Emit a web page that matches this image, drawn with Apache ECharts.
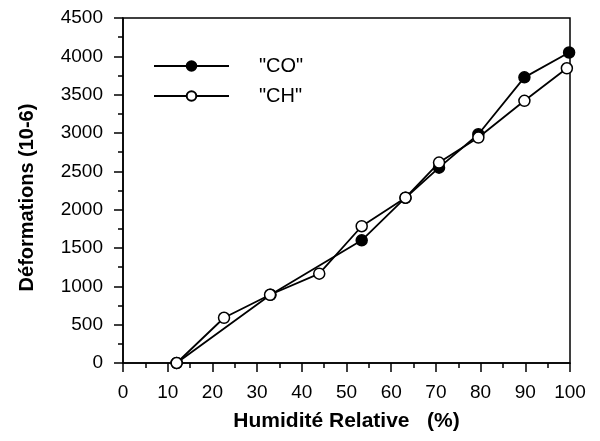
<!DOCTYPE html>
<html>
<head>
<meta charset="utf-8">
<script src="https://cdn.jsdelivr.net/npm/echarts@6/dist/echarts.min.js"></script>
<style>
  html, body { margin: 0; padding: 0; background: #fff; }
  #chart { width: 600px; height: 441px; }
</style>
</head>
<body>
<div id="chart"></div>
<script>
var coX = [12, 33, 53.4, 63.2, 70.7, 79.5, 89.8, 99.8];
var coY = [0, 890, 1600, 2156, 2548, 2984, 3726, 4050];
var chX = [12, 22.6, 32.9, 43.9, 53.4, 63.2, 70.7, 79.5, 89.8, 99.3];
var chY = [0, 590, 890, 1165, 1784, 2156, 2614, 2941, 3420, 3844];

function pairs(xs, ys) {
    var out = [];
    for (var i = 0; i < xs.length; i++) out.push([xs[i], ys[i]]);
    return out;
}

var font = "'Liberation Sans', Arial, sans-serif";
var myChart = echarts.init(document.getElementById('chart'));
var option = {
    animation: false,
    backgroundColor: '#fff',
    grid: {
        left: 123, right: 30, top: 18, bottom: 78,
        show: true, borderColor: '#000', borderWidth: 1.5
    },
    legend: {
        orient: 'vertical',
        left: 148, top: 51,
        itemWidth: 75, itemHeight: 12, itemGap: 10,
        data: ['"CO"', '"CH"'],
        textStyle: { fontFamily: font, fontSize: 20, color: '#000', padding: [0, 0, 0, 25] }
    },
    xAxis: {
        type: 'value', min: 0, max: 100, interval: 10,
        name: 'Humidité Relative   (%)', nameLocation: 'middle', nameGap: 48,
        nameTextStyle: { fontFamily: font, fontSize: 21, fontWeight: 'bold', color: '#000' },
        axisLine: { lineStyle: { color: '#000', width: 1.5 } },
        axisTick: { length: 9, lineStyle: { color: '#000', width: 1.5 } },
        minorTick: { show: true, splitNumber: 2, length: 5, lineStyle: { color: '#000', width: 1.5 } },
        axisLabel: { fontFamily: font, fontSize: 19, color: '#000', margin: 20 },
        splitLine: { show: false }
    },
    yAxis: {
        type: 'value', min: 0, max: 4500, interval: 500,
        name: 'Déformations (10-6)', nameLocation: 'middle', nameGap: 86,
        nameTextStyle: {
            fontFamily: font, fontSize: 20, fontWeight: 'bold', color: '#000',
            padding: [0, 14, 0, 0]
        },
        axisLine: { lineStyle: { color: '#000', width: 1.5 } },
        axisTick: { length: 9, lineStyle: { color: '#000', width: 1.5 } },
        minorTick: { show: true, splitNumber: 2, length: 5, lineStyle: { color: '#000', width: 1.5 } },
        axisLabel: {
            fontFamily: font, fontSize: 19, color: '#000', margin: 20,
            formatter: function (v) { return String(v); }
        },
        splitLine: { show: false }
    },
    series: [
        {
            name: '"CO"', type: 'line', data: pairs(coX, coY),
            symbol: 'circle', symbolSize: 11,
            lineStyle: { color: '#000', width: 1.8 },
            itemStyle: { color: '#000', borderColor: '#000', borderWidth: 1.5 }
        },
        {
            name: '"CH"', type: 'line', data: pairs(chX, chY),
            symbol: 'circle', symbolSize: 11,
            lineStyle: { color: '#000', width: 1.8 },
            itemStyle: { color: '#fff', borderColor: '#000', borderWidth: 1.5 }
        }
    ]
};
myChart.setOption(option);
</script>
</body>
</html>
